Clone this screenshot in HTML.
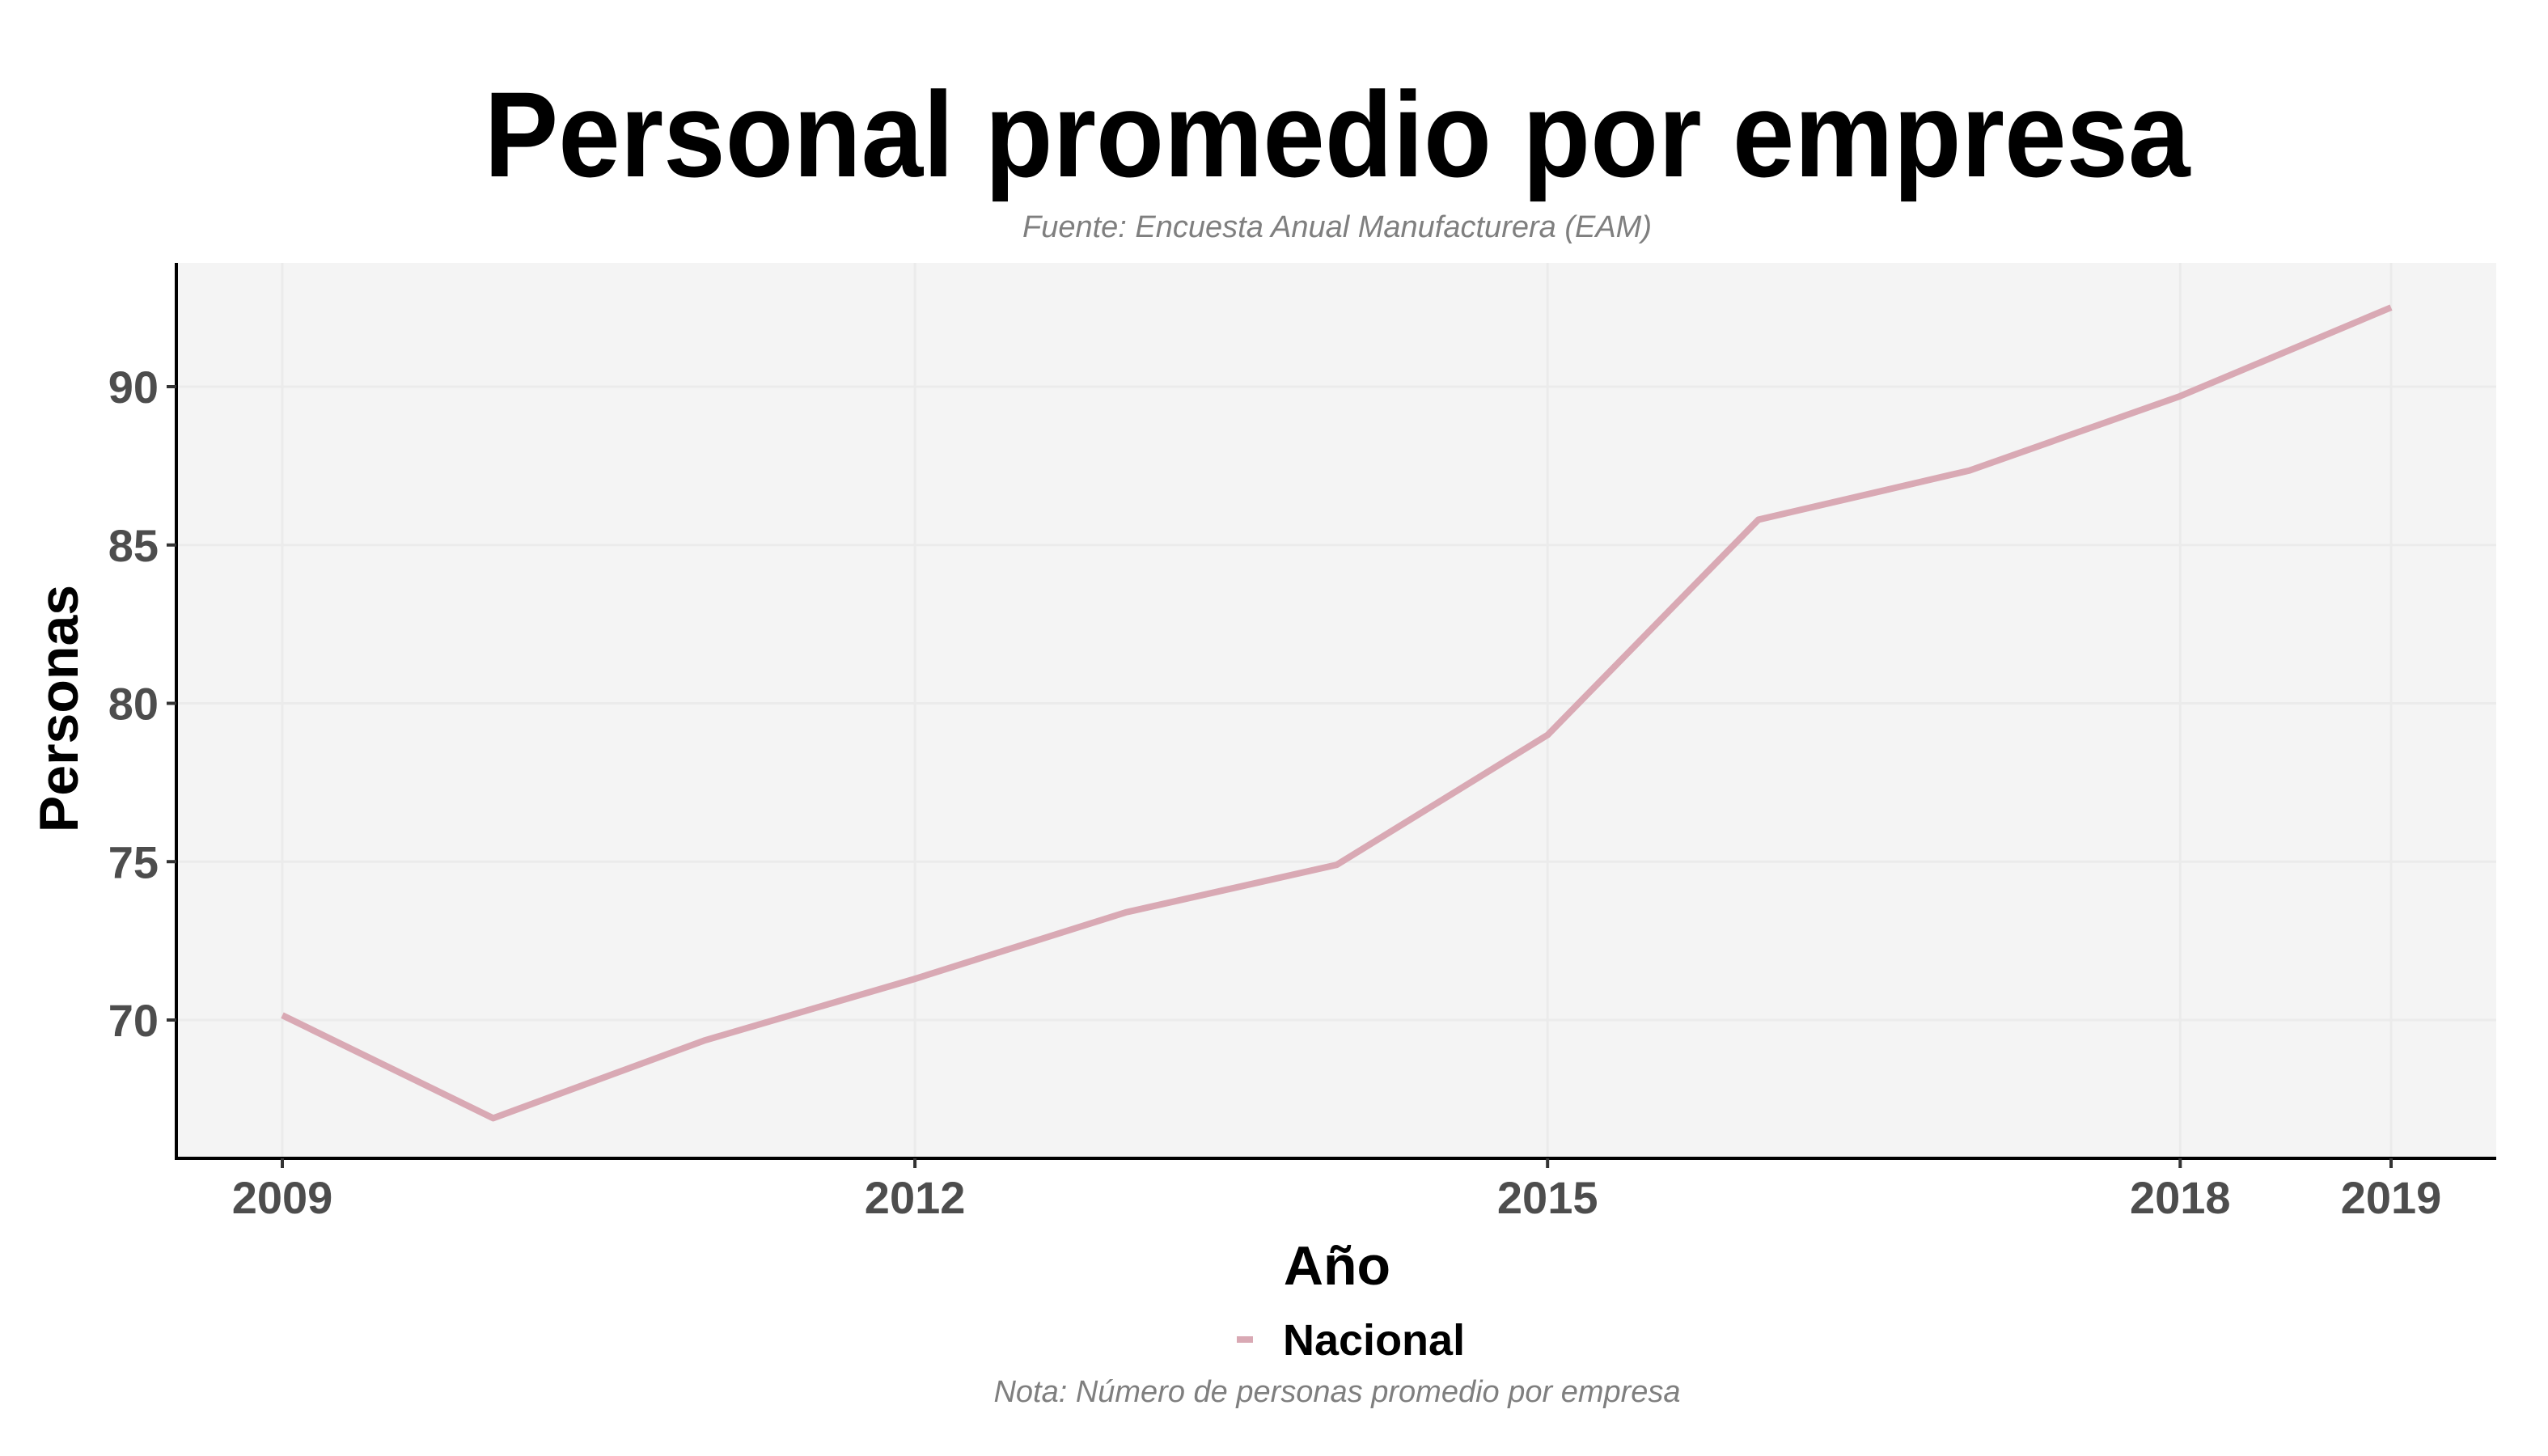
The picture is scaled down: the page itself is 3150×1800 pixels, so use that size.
<!DOCTYPE html>
<html><head><meta charset="utf-8"><style>
html,body{margin:0;padding:0;background:#fff;}
svg{display:block;font-family:"Liberation Sans",Arial,sans-serif;}
</style></head><body>
<svg id="chart" width="3150" height="1800" viewBox="0 0 3150 1800">
<text x="1653" y="218" text-anchor="middle" font-size="150" font-weight="bold" fill="#000" textLength="2109" lengthAdjust="spacingAndGlyphs">Personal promedio por empresa</text>
<text x="1653" y="293" text-anchor="middle" font-size="38" font-style="italic" fill="#7f7f7f">Fuente: Encuesta Anual Manufacturera (EAM)</text>
<rect x="218" y="325" width="2868" height="1107" fill="#f4f4f4"/>
<g id="grid"></g>
<g id="series"></g>
<line x1="218" y1="325" x2="218" y2="1434" stroke="#000" stroke-width="4"/>
<line x1="216" y1="1432" x2="3086" y2="1432" stroke="#000" stroke-width="4"/>
<g id="ticks"></g>
<text x="1653" y="1588" text-anchor="middle" font-size="68" font-weight="bold" fill="#000">Año</text>
<text transform="translate(96,876) rotate(-90)" text-anchor="middle" font-size="68" font-weight="bold" fill="#000">Personas</text>
<g>
<line x1="1529" y1="1656" x2="1549" y2="1656" stroke="#d9a9b4" stroke-width="8"/>
<text x="1586" y="1675" font-size="54" font-weight="bold" fill="#000">Nacional</text>
</g>
<text x="1653" y="1733" text-anchor="middle" font-size="38" font-style="italic" fill="#7f7f7f">Nota: Número de personas promedio por empresa</text>
</svg>
<script>
const years = [2009,2010,2011,2012,2013,2014,2015,2016,2017,2018,2019];
const values = [70.15,66.9,69.35,71.3,73.4,74.9,79.0,85.8,87.35,89.7,92.5];
const yTicks = [70,75,80,85,90];
const xTicks = [2009,2012,2015,2018,2019];
const NS='http://www.w3.org/2000/svg';
function sx(v){return 349+(v-2009)*(2956-349)/10;}
function sy(v){return 1261-(v-70)*(1261-478)/20;}
const grid=document.getElementById('grid'),ticks=document.getElementById('ticks'),series=document.getElementById('series');
function mk(tag,attrs,parent){const e=document.createElementNS(NS,tag);for(const k in attrs)e.setAttribute(k,attrs[k]);parent.appendChild(e);return e;}
yTicks.forEach(v=>{
  const g=mk('line',{x1:218,x2:3086,y1:sy(v),y2:sy(v),stroke:'#ebebeb','stroke-width':3},grid);
  
  
  const t=mk('line',{x1:206,x2:218,y1:sy(v),y2:sy(v),stroke:'#333','stroke-width':4},ticks);
  
  
  const l=mk('text',{x:196,y:sy(v)+20,'text-anchor':'end','font-size':56,'font-weight':'bold',fill:'#4d4d4d'},ticks);
  l.textContent=v;
  
  
});
xTicks.forEach(v=>{
  const g=mk('line',{x1:sx(v),x2:sx(v),y1:325,y2:1432,stroke:'#ebebeb','stroke-width':3},grid);
  
  
  const t=mk('line',{x1:sx(v),x2:sx(v),y1:1432,y2:1444,stroke:'#333','stroke-width':4},ticks);
  
  
  const l=mk('text',{x:sx(v),y:1500,'text-anchor':'middle','font-size':56,'font-weight':'bold',fill:'#4d4d4d'},ticks);
  l.textContent=v;
  
  
});
const pts=years.map((y,i)=>sx(y)+','+sy(values[i])).join(' ');
const pl=mk('polyline',{points:pts,fill:'none',stroke:'#d9a9b4','stroke-width':8,'stroke-linejoin':'round'},series);


</script>
</body></html>
